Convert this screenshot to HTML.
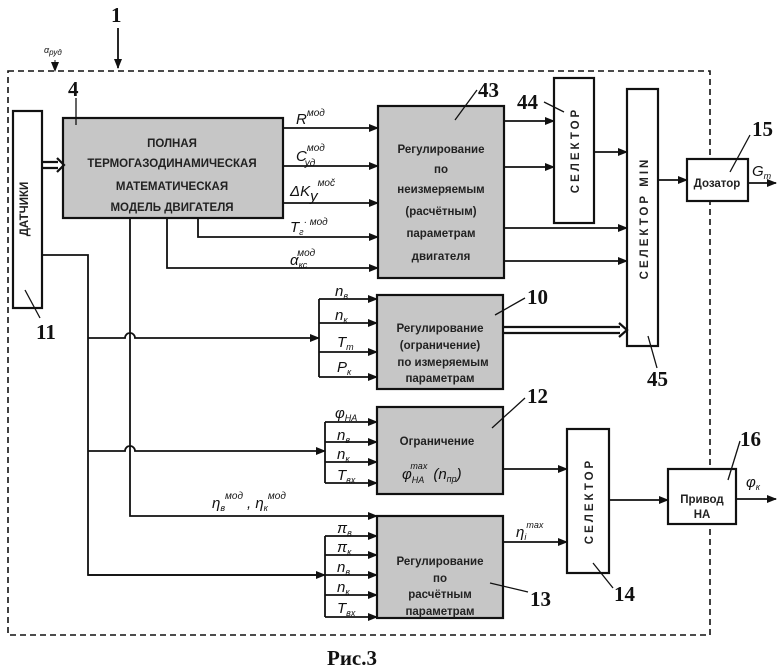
<!DOCTYPE html>
<html><head><meta charset="utf-8"><style>
html,body{margin:0;padding:0;background:#fff}
svg{display:block}
.b{font-family:"Liberation Sans",sans-serif;font-weight:bold;font-size:11.5px;fill:#222}
.i{font-family:"Liberation Sans",sans-serif;font-style:italic;font-size:15px;fill:#111}
.s{font-family:"Liberation Sans",sans-serif;font-style:italic;font-size:9px;fill:#111}
.n{font-family:"Liberation Serif",serif;font-weight:bold;font-size:21px;fill:#111}
</style></head><body>
<svg width="780" height="672" viewBox="0 0 780 672" xmlns="http://www.w3.org/2000/svg">
<defs>
<marker id="a" markerWidth="10" markerHeight="8" refX="9" refY="4" orient="auto" markerUnits="userSpaceOnUse"><path d="M0,0 L10,4 L0,8 z" fill="#111"/></marker>
</defs>
<g fill="none" stroke="#111" stroke-width="1.6">
<rect x="8" y="71" width="702" height="564" stroke-dasharray="6,4"/>
</g>
<g stroke="#111" stroke-width="2.2">
<rect x="13" y="111" width="29" height="197" fill="#fff"/>
<rect x="63" y="118" width="220" height="100" fill="#c6c6c6"/>
<rect x="378" y="106" width="126" height="172" fill="#c6c6c6"/>
<rect x="554" y="78" width="40" height="145" fill="#fff"/>
<rect x="627" y="89" width="31" height="257" fill="#fff"/>
<rect x="687" y="159" width="61" height="42" fill="#fff"/>
<rect x="377" y="295" width="126" height="94" fill="#c6c6c6"/>
<rect x="377" y="407" width="126" height="87" fill="#c6c6c6"/>
<rect x="377" y="516" width="126" height="102" fill="#c6c6c6"/>
<rect x="567" y="429" width="42" height="144" fill="#fff"/>
<rect x="668" y="469" width="68" height="55" fill="#fff"/>
</g>
<g fill="none" stroke="#111" stroke-width="1.8">
<line x1="118" y1="28" x2="118" y2="68" marker-end="url(#a)"/>
<line x1="55" y1="60" x2="55" y2="71" stroke-width="1" marker-end="url(#a)"/>
<path d="M42,162 H58 M42,168 H58" stroke-width="2.2"/><path d="M57,158 L64,165 L57,172" stroke-width="2.2"/>
<path d="M503,327 H620 M503,333 H620" stroke-width="2.2"/><path d="M619,323 L627,330 L619,337" stroke-width="2.2"/>
<line x1="283" y1="128" x2="378" y2="128" marker-end="url(#a)"/>
<line x1="283" y1="166" x2="378" y2="166" marker-end="url(#a)"/>
<line x1="283" y1="203" x2="378" y2="203" marker-end="url(#a)"/>
<polyline points="198,218 198,237 378,237" marker-end="url(#a)"/>
<polyline points="167,218 167,268 378,268" marker-end="url(#a)"/>
<line x1="504" y1="121" x2="554" y2="121" marker-end="url(#a)"/>
<line x1="504" y1="167" x2="554" y2="167" marker-end="url(#a)"/>
<line x1="504" y1="228" x2="627" y2="228" marker-end="url(#a)"/>
<line x1="504" y1="261" x2="627" y2="261" marker-end="url(#a)"/>
<line x1="594" y1="152" x2="627" y2="152" marker-end="url(#a)"/>
<line x1="658" y1="180" x2="687" y2="180" marker-end="url(#a)"/>
<line x1="748" y1="183" x2="776" y2="183" marker-end="url(#a)"/>
<polyline points="42,255 88,255 88,575 319,575"/>
<path d="M88,338 H125 A5,5 0 0 1 135,338 H319" marker-end="url(#a)"/>
<path d="M88,451 H125 A5,5 0 0 1 135,451 H325" marker-end="url(#a)"/>
<line x1="88" y1="575" x2="325" y2="575" marker-end="url(#a)"/>
<polyline points="130,218 130,516 377,516" marker-end="url(#a)"/>
<line x1="319" y1="299" x2="319" y2="377"/>
<line x1="319" y1="299" x2="377" y2="299" marker-end="url(#a)"/>
<line x1="319" y1="323" x2="377" y2="323" marker-end="url(#a)"/>
<line x1="319" y1="352" x2="377" y2="352" marker-end="url(#a)"/>
<line x1="319" y1="377" x2="377" y2="377" marker-end="url(#a)"/>
<line x1="325" y1="422" x2="325" y2="483"/>
<line x1="325" y1="422" x2="377" y2="422" marker-end="url(#a)"/>
<line x1="325" y1="442" x2="377" y2="442" marker-end="url(#a)"/>
<line x1="325" y1="462" x2="377" y2="462" marker-end="url(#a)"/>
<line x1="325" y1="483" x2="377" y2="483" marker-end="url(#a)"/>
<line x1="503" y1="469" x2="567" y2="469" marker-end="url(#a)"/>
<line x1="325" y1="536" x2="325" y2="617"/>
<line x1="325" y1="536" x2="377" y2="536" marker-end="url(#a)"/>
<line x1="325" y1="555" x2="377" y2="555" marker-end="url(#a)"/>
<line x1="325" y1="575" x2="377" y2="575" marker-end="url(#a)"/>
<line x1="325" y1="595" x2="377" y2="595" marker-end="url(#a)"/>
<line x1="325" y1="617" x2="377" y2="617" marker-end="url(#a)"/>
<line x1="503" y1="542" x2="567" y2="542" marker-end="url(#a)"/>
<line x1="609" y1="500" x2="668" y2="500" marker-end="url(#a)"/>
<line x1="736" y1="499" x2="776" y2="499" marker-end="url(#a)"/>
<g stroke-width="1.3">
<line x1="76" y1="98" x2="76" y2="125"/>
<line x1="25" y1="290" x2="40" y2="318"/>
<line x1="455" y1="120" x2="477" y2="90"/>
<line x1="544" y1="102" x2="564" y2="112"/>
<line x1="730" y1="172" x2="750" y2="135"/>
<line x1="648" y1="336" x2="657" y2="368"/>
<line x1="495" y1="315" x2="525" y2="298"/>
<line x1="492" y1="428" x2="525" y2="398"/>
<line x1="490" y1="583" x2="528" y2="592"/>
<line x1="593" y1="563" x2="613" y2="588"/>
<line x1="728" y1="480" x2="740" y2="441"/>
</g>
</g>
<text class="n" x="111" y="22">1</text>
<text class="n" x="68" y="96">4</text>
<text class="n" x="36" y="339">11</text>
<text class="n" x="478" y="97">43</text>
<text class="n" x="517" y="109">44</text>
<text class="n" x="752" y="136">15</text>
<text class="n" x="647" y="386">45</text>
<text class="n" x="527" y="304">10</text>
<text class="n" x="527" y="403">12</text>
<text class="n" x="530" y="606">13</text>
<text class="n" x="614" y="601">14</text>
<text class="n" x="740" y="446">16</text>
<text class="n" x="327" y="665" font-size="22">Рис.3</text>
<text class="b" x="28" y="209" transform="rotate(-90 28 209)" text-anchor="middle" font-size="12.5">ДАТЧИКИ</text>
<g class="b" text-anchor="middle" font-size="12">
<text x="172" y="147">ПОЛНАЯ</text>
<text x="172" y="167">ТЕРМОГАЗОДИНАМИЧЕСКАЯ</text>
<text x="172" y="190">МАТЕМАТИЧЕСКАЯ</text>
<text x="172" y="211">МОДЕЛЬ  ДВИГАТЕЛЯ</text>
</g>
<g class="b" text-anchor="middle" font-size="11">
<text x="441" y="153">Регулирование</text>
<text x="441" y="173">по</text>
<text x="441" y="193">неизмеряемым</text>
<text x="441" y="215">(расчётным)</text>
<text x="441" y="237">параметрам</text>
<text x="441" y="260">двигателя</text>
<text x="440" y="332">Регулирование</text>
<text x="440" y="349">(ограничение)</text>
<text x="443" y="366">по измеряемым</text>
<text x="440" y="382">параметрам</text>
<text x="437" y="445">Ограничение</text>
<text x="440" y="565">Регулирование</text>
<text x="440" y="582">по</text>
<text x="440" y="598">расчётным</text>
<text x="440" y="615">параметрам</text>
<text x="717" y="187">Дозатор</text>
<text x="702" y="503">Привод</text>
<text x="702" y="518">НА</text>
</g>
<text class="b" x="579" y="150" transform="rotate(-90 579 150)" text-anchor="middle" letter-spacing="3" font-size="12.5">СЕЛЕКТОР</text>
<text class="b" x="648" y="218" transform="rotate(-90 648 218)" text-anchor="middle" letter-spacing="3" font-size="12.5">СЕЛЕКТОР   MIN</text>
<text class="b" x="593" y="501" transform="rotate(-90 593 501)" text-anchor="middle" letter-spacing="3" font-size="12.5">СЕЛЕКТОР</text>
<text class="i" x="296" y="124" font-size="18">R<tspan dy="-8" font-size="10">мод</tspan></text>
<text class="i" x="296" y="161" font-size="18">C<tspan dy="-10" font-size="10">мод</tspan><tspan dx="-20" dy="15" font-size="10">уд</tspan></text>
<text class="i" x="290" y="196" font-size="17">ΔK<tspan dy="5" font-size="15">y</tspan><tspan dy="-15" font-size="10">моč</tspan></text>
<text class="i" x="290" y="232" font-size="16">T<tspan dy="3" font-size="9">г</tspan><tspan dy="-10" font-size="10">· мод</tspan></text>
<text class="i" x="290" y="265" font-size="16">α<tspan dy="3" font-size="9">кс</tspan><tspan dx="-10" dy="-12" font-size="10">мод</tspan></text>
<text class="i" x="335" y="296">n<tspan dy="3" font-size="9">в</tspan></text>
<text class="i" x="335" y="320">n<tspan dy="3" font-size="9">к</tspan></text>
<text class="i" x="337" y="347">T<tspan dy="3" font-size="9">т</tspan></text>
<text class="i" x="337" y="372">P<tspan dy="3" font-size="9">к</tspan></text>
<text class="i" x="335" y="418">φ<tspan dy="3" font-size="9">НА</tspan></text>
<text class="i" x="337" y="440">n<tspan dy="3" font-size="9">в</tspan></text>
<text class="i" x="337" y="459">n<tspan dy="3" font-size="9">к</tspan></text>
<text class="i" x="337" y="480">T<tspan dy="3" font-size="9">вх</tspan></text>
<text class="i" x="337" y="533" font-size="13">π<tspan dy="3" font-size="9">в</tspan></text>
<text class="i" x="337" y="552" font-size="13">π<tspan dy="3" font-size="9">к</tspan></text>
<text class="i" x="337" y="572">n<tspan dy="3" font-size="9">в</tspan></text>
<text class="i" x="337" y="592">n<tspan dy="3" font-size="9">к</tspan></text>
<text class="i" x="337" y="613">T<tspan dy="3" font-size="9">вх</tspan></text>
<text class="i" x="402" y="479" font-size="16">φ<tspan dy="4" font-size="9">НА</tspan><tspan dx="-14" dy="-14" font-size="9">max</tspan><tspan dx="6" dy="10">(n</tspan><tspan dy="3" font-size="9">пр</tspan><tspan dy="-3">)</tspan></text>
<text class="i" x="516" y="537" font-size="16">η<tspan dy="3" font-size="9">i</tspan><tspan dy="-12" font-size="9">max</tspan></text>
<text class="i" x="212" y="508" font-size="16">η<tspan dy="3" font-size="9">в</tspan><tspan dy="-12" font-size="10">мод</tspan><tspan dx="4" dy="9">,  η</tspan><tspan dy="3" font-size="9">к</tspan><tspan dy="-12" font-size="10">мод</tspan></text>
<text class="i" x="752" y="176" font-size="16">G<tspan dy="3" font-size="9">т</tspan></text>
<text class="i" x="746" y="487" font-size="16">φ<tspan dy="3" font-size="9">к</tspan></text>
<text class="s" x="44" y="53" font-size="11">α<tspan dy="2" font-size="8">руд</tspan></text>
</svg>
</body></html>
